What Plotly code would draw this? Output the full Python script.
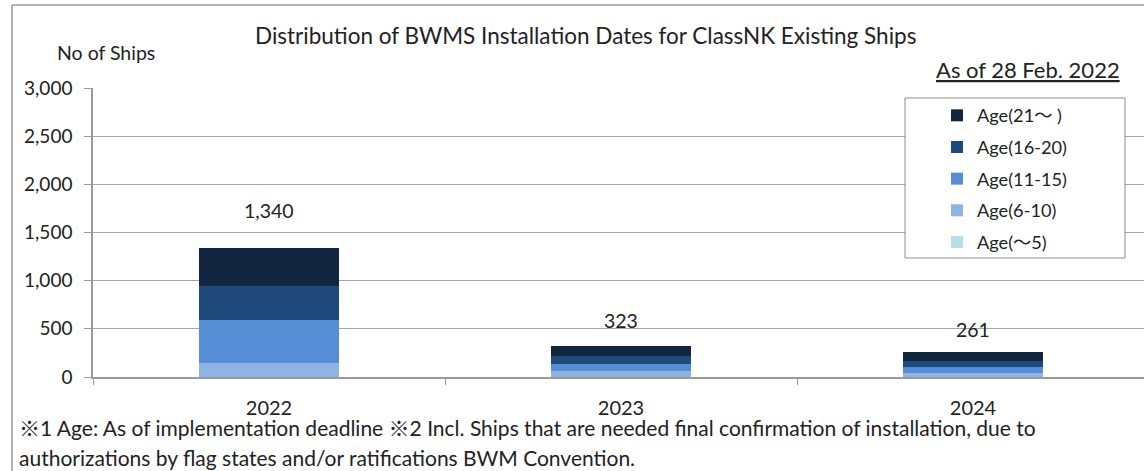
import plotly.graph_objects as go

years = ["2022", "2023", "2024"]
series_names = ["Age(～5)", "Age(6-10)", "Age(11-15)", "Age(16-20)", "Age(21～ )"]
age_0_5 = [0, 0, 0]
age_6_10 = [145, 62, 46]
age_11_15 = [447, 70, 54]
age_16_20 = [353, 87, 61]
age_21_plus = [395, 104, 100]
totals = [1340, 323, 261]
total_labels = ["1,340", "323", "261"]
y_ticks = [0, 500, 1000, 1500, 2000, 2500, 3000]
y_tick_labels = ["0", "500", "1,000", "1,500", "2,000", "2,500", "3,000"]

colors = ["#B7DEE8", "#8EB4E3", "#558ED5", "#1F497D", "#13263F"]
series_values = [age_0_5, age_6_10, age_11_15, age_16_20, age_21_plus]
label_shifts = [24, 12, 9]

FONT = "Lato, 'Noto Sans CJK JP', sans-serif"

W, H = 1144, 471
L, R, T, B = 93, 0, 88, 94
pw = W - L - R
ph = H - T - B

def px(x):
    return (x - L) / pw

def py(y):
    return (H - B - y) / ph

fig = go.Figure()
n = len(series_names)
for k, (name, vals, col) in enumerate(zip(series_names, series_values, colors)):
    fig.add_trace(go.Bar(
        x=years, y=vals, name=name, marker=dict(color=col, line=dict(width=0)),
        legendgroup=name, legendrank=n - k, hoverinfo="skip",
    ))

annotations = []
for i, (tot, lab, sh) in enumerate(zip(totals, total_labels, label_shifts)):
    annotations.append(dict(x=i, y=tot, xref="x", yref="y", text=lab, showarrow=False,
                            yanchor="bottom", yshift=sh, font=dict(size=19.5, color="#222")))

annotations += [
    dict(x=px(585), y=py(35), xref="paper", yref="paper", showarrow=False,
         text="Distribution of BWMS Installation Dates for ClassNK Existing Ships",
         font=dict(size=22.5, color="#222"), xanchor="center", yanchor="middle"),
    dict(x=px(106), y=py(53), xref="paper", yref="paper", showarrow=False,
         text="No of Ships", font=dict(size=19.5, color="#222"), xanchor="center", yanchor="middle"),
    dict(x=px(1122), y=py(70), xref="paper", yref="paper", showarrow=False,
         text="<u>As of 28 Feb. 2022</u>", font=dict(size=22, color="#222"), xanchor="right", yanchor="middle"),
    dict(x=px(17), y=py(427), xref="paper", yref="paper", showarrow=False, align="left",
         text="※1 Age: As of implementation deadline ※2 Incl. Ships that are needed final confirmation of installation, due to",
         font=dict(size=21, color="#222"), xanchor="left", yanchor="middle"),
    dict(x=px(17), y=py(457), xref="paper", yref="paper", showarrow=False, align="left",
         text="authorizations by flag states and/or ratifications BWM Convention.",
         font=dict(size=21, color="#222"), xanchor="left", yanchor="middle"),
]

shapes = [
    dict(type="line", xref="paper", yref="paper", x0=px(12), x1=px(12), y0=py(5), y1=py(480),
         line=dict(color="#9A9A9A", width=1.5)),
    dict(type="line", xref="paper", yref="paper", x0=px(12), x1=px(1150), y0=py(5), y1=py(5),
         line=dict(color="#9A9A9A", width=1.5)),
    dict(type="rect", xref="paper", yref="paper", x0=px(905), x1=px(1125), y0=py(258), y1=py(98),
         fillcolor="white", line=dict(color="#8C8C8C", width=1), layer="above"),
]

fig.update_layout(
    width=W, height=H,
    margin=dict(l=L, r=R, t=T, b=B, autoexpand=False),
    barmode="stack", bargap=0.6,
    paper_bgcolor="white", plot_bgcolor="white",
    font=dict(family=FONT, color="#222"),
    showlegend=True,
    legend=dict(x=px(905), y=py(97), xanchor="left", yanchor="top",
                bgcolor="rgba(0,0,0,0)", borderwidth=0,
                font=dict(size=18.2, color="#222"), traceorder="grouped",
                tracegroupgap=5, itemwidth=30, indentation=32),
    xaxis=dict(type="category", range=[-0.5, -0.5 + pw / 352], showgrid=False, showline=True,
               linecolor="#9A9A9A", linewidth=1.5, ticks="outside", tickson="boundaries",
               ticklen=6, tickcolor="#9A9A9A", tickfont=dict(size=20, color="#222"),
               ticklabelstandoff=12, fixedrange=True),
    yaxis=dict(range=[0, 3000], tickvals=y_ticks, ticktext=y_tick_labels, showgrid=True,
               gridcolor="#A6A6A6", gridwidth=1, showline=True, linecolor="#9A9A9A",
               linewidth=1.5, ticks="outside", ticklen=7, tickcolor="#9A9A9A",
               tickfont=dict(size=19, color="#222"), ticklabelstandoff=8, zeroline=False,
               fixedrange=True),
    annotations=annotations, shapes=shapes,
)

fig.write_html("out.html", config={"displayModeBar": False},
               post_script="document.body.style.margin='0';document.body.style.overflow='hidden';")
